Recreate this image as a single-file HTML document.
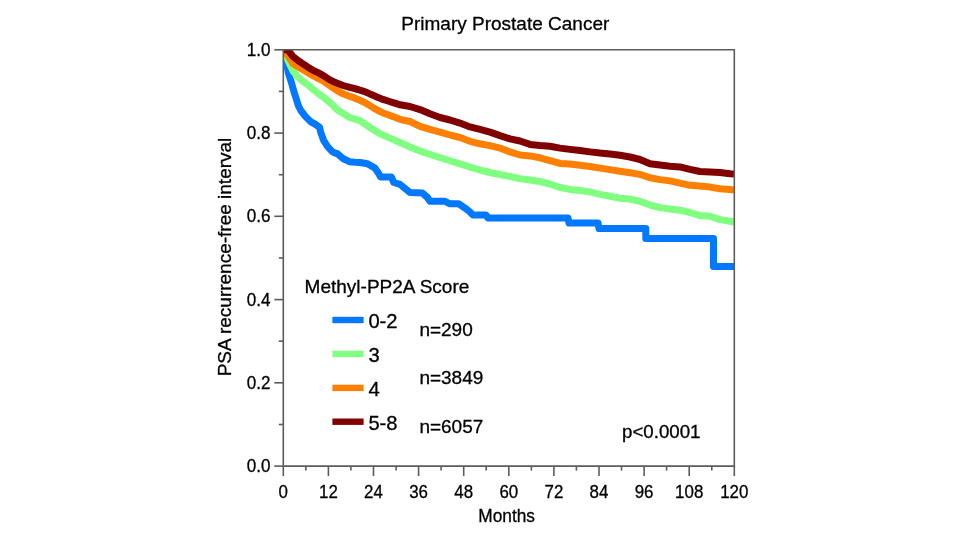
<!DOCTYPE html>
<html><head><meta charset="utf-8"><title>Primary Prostate Cancer</title>
<style>
html,body{margin:0;padding:0;background:#fff;}
body{width:960px;height:540px;overflow:hidden;}
svg{display:block;}
text{fill:#000;stroke:#000;stroke-width:0.3px;}
</style></head>
<body>
<svg width="960" height="540" viewBox="0 0 960 540" font-family="Liberation Sans, Arial, sans-serif">
<rect width="960" height="540" fill="#fff"/>
<defs><clipPath id="pa"><rect x="283.3" y="49.8" width="450.99999999999994" height="416.3"/></clipPath></defs>
<g clip-path="url(#pa)">
<polyline points="283.3,49.8 284.4,52.8 285.8,59.8 288.4,73.1 291.4,82.5 294.0,91.9 296.3,99.0 298.3,105.5 300.8,110.5 305.4,116.4 310.5,121.6 315.1,124.1 319.6,127.4 320.8,132.6 323.6,140.3 327.8,146.8 332.6,152.0 337.7,153.9 342.9,158.5 349.4,161.7 355.0,162.2 360.0,162.5 367.5,163.8 375.0,168.1 378.8,173.8 380.6,176.9 391.3,176.9 393.8,182.5 400.0,184.4 410.0,192.5 422.5,193.1 427.5,197.5 430.0,201.3 445.0,201.3 450.0,203.8 458.8,203.8 465.0,208.1 470.0,212.0 473.0,215.0 486.0,215.0 488.0,218.0 568.0,218.0 569.0,223.0 598.0,223.0 599.0,228.5 645.8,228.5 645.8,238.4 713.5,238.4 713.5,266.5 734.0,266.5" fill="none" stroke="#0078ff" stroke-width="7.0" stroke-linejoin="round" stroke-linecap="butt"/>
<polyline points="283.3,49.8 284.9,53.6 288.0,60.3 293.0,71.0 298.0,77.2 303.0,81.5 308.0,84.9 313.0,89.3 318.0,93.2 323.0,97.0 328.0,100.9 333.0,105.4 337.0,109.5 340.0,111.5 350.0,117.7 360.0,120.6 370.0,127.5 380.0,133.8 390.0,138.1 400.0,142.5 410.0,147.0 422.5,152.0 435.0,156.0 447.5,160.0 460.0,163.8 472.5,167.8 480.0,170.0 490.0,172.5 500.0,174.5 510.0,176.5 520.0,178.6 530.0,180.0 540.0,181.5 550.0,184.0 560.0,187.5 570.0,189.4 580.0,190.6 590.0,191.9 600.0,194.4 610.0,196.3 620.0,198.2 630.0,199.0 640.0,201.4 650.0,205.0 660.0,207.6 670.0,209.0 680.0,210.2 690.0,212.5 700.0,215.6 710.0,216.3 720.0,219.6 730.0,221.3 734.0,222.0" fill="none" stroke="#80ff80" stroke-width="7.0" stroke-linejoin="round" stroke-linecap="butt"/>
<polyline points="283.3,49.8 284.9,51.9 288.0,56.0 293.0,63.5 298.0,66.8 303.0,69.8 308.0,72.9 313.0,75.7 318.0,78.3 323.0,80.8 328.0,84.3 333.0,87.9 338.0,91.2 343.0,93.8 348.0,95.7 353.0,97.4 358.0,99.4 363.0,101.7 368.0,104.4 373.0,107.6 378.0,110.5 383.0,112.9 388.0,114.8 393.0,116.6 398.0,118.6 400.0,119.3 410.0,121.5 420.0,126.3 430.0,129.4 440.0,132.1 450.0,135.0 460.0,137.5 470.0,141.3 480.0,143.8 490.0,145.6 500.0,148.1 510.0,151.9 520.0,155.0 530.0,155.9 540.0,157.8 550.0,160.6 560.0,163.4 570.0,164.0 580.0,165.3 590.0,166.5 600.0,168.1 610.0,169.6 620.0,171.3 630.0,172.8 640.0,174.4 650.0,177.8 660.0,179.6 670.0,180.9 680.0,183.1 690.0,185.3 700.0,185.9 710.0,187.1 720.0,188.8 730.0,189.6 734.0,190.0" fill="none" stroke="#ff8000" stroke-width="7.0" stroke-linejoin="round" stroke-linecap="butt"/>
<polyline points="283.3,49.0 288.5,50.6 293.0,56.6 298.0,60.5 303.0,63.8 308.0,67.2 313.0,70.3 318.0,72.7 323.0,75.4 328.0,78.7 333.0,81.5 338.0,83.5 343.0,85.5 348.0,86.9 353.0,88.2 358.0,89.5 363.0,91.1 368.0,93.1 373.0,95.3 378.0,97.4 383.0,99.4 388.0,101.0 393.0,102.6 398.0,104.2 400.0,104.8 410.0,106.5 420.0,109.6 430.0,113.8 440.0,117.5 450.0,120.0 460.0,123.1 470.0,126.9 480.0,129.4 490.0,132.1 500.0,135.6 510.0,138.8 520.0,141.0 530.0,144.4 540.0,145.6 550.0,146.3 560.0,148.1 570.0,149.4 580.0,150.6 590.0,151.9 600.0,153.1 610.0,154.0 620.0,155.3 630.0,157.0 640.0,159.5 650.0,163.8 660.0,165.0 670.0,166.3 680.0,166.9 690.0,169.4 700.0,171.5 710.0,171.9 720.0,172.5 730.0,173.8 734.0,174.0" fill="none" stroke="#800000" stroke-width="7.0" stroke-linejoin="round" stroke-linecap="butt"/>
</g>
<path d="M283.3,49.8 H734.3 V466.1 H283.3 Z" fill="none" stroke="#5c5c5c" stroke-width="1.6"/>
<line x1="274.3" y1="466.1" x2="283.3" y2="466.1" stroke="#5c5c5c" stroke-width="1.6"/>
<line x1="278.8" y1="424.5" x2="283.3" y2="424.5" stroke="#5c5c5c" stroke-width="1.6"/>
<line x1="274.3" y1="382.8" x2="283.3" y2="382.8" stroke="#5c5c5c" stroke-width="1.6"/>
<line x1="278.8" y1="341.2" x2="283.3" y2="341.2" stroke="#5c5c5c" stroke-width="1.6"/>
<line x1="274.3" y1="299.6" x2="283.3" y2="299.6" stroke="#5c5c5c" stroke-width="1.6"/>
<line x1="278.8" y1="258.0" x2="283.3" y2="258.0" stroke="#5c5c5c" stroke-width="1.6"/>
<line x1="274.3" y1="216.3" x2="283.3" y2="216.3" stroke="#5c5c5c" stroke-width="1.6"/>
<line x1="278.8" y1="174.7" x2="283.3" y2="174.7" stroke="#5c5c5c" stroke-width="1.6"/>
<line x1="274.3" y1="133.1" x2="283.3" y2="133.1" stroke="#5c5c5c" stroke-width="1.6"/>
<line x1="278.8" y1="91.4" x2="283.3" y2="91.4" stroke="#5c5c5c" stroke-width="1.6"/>
<line x1="274.3" y1="49.8" x2="283.3" y2="49.8" stroke="#5c5c5c" stroke-width="1.6"/>
<line x1="283.3" y1="466.1" x2="283.3" y2="476.1" stroke="#5c5c5c" stroke-width="1.6"/>
<line x1="305.9" y1="466.1" x2="305.9" y2="470.6" stroke="#5c5c5c" stroke-width="1.6"/>
<line x1="328.4" y1="466.1" x2="328.4" y2="476.1" stroke="#5c5c5c" stroke-width="1.6"/>
<line x1="350.9" y1="466.1" x2="350.9" y2="470.6" stroke="#5c5c5c" stroke-width="1.6"/>
<line x1="373.5" y1="466.1" x2="373.5" y2="476.1" stroke="#5c5c5c" stroke-width="1.6"/>
<line x1="396.1" y1="466.1" x2="396.1" y2="470.6" stroke="#5c5c5c" stroke-width="1.6"/>
<line x1="418.6" y1="466.1" x2="418.6" y2="476.1" stroke="#5c5c5c" stroke-width="1.6"/>
<line x1="441.1" y1="466.1" x2="441.1" y2="470.6" stroke="#5c5c5c" stroke-width="1.6"/>
<line x1="463.7" y1="466.1" x2="463.7" y2="476.1" stroke="#5c5c5c" stroke-width="1.6"/>
<line x1="486.2" y1="466.1" x2="486.2" y2="470.6" stroke="#5c5c5c" stroke-width="1.6"/>
<line x1="508.8" y1="466.1" x2="508.8" y2="476.1" stroke="#5c5c5c" stroke-width="1.6"/>
<line x1="531.4" y1="466.1" x2="531.4" y2="470.6" stroke="#5c5c5c" stroke-width="1.6"/>
<line x1="553.9" y1="466.1" x2="553.9" y2="476.1" stroke="#5c5c5c" stroke-width="1.6"/>
<line x1="576.4" y1="466.1" x2="576.4" y2="470.6" stroke="#5c5c5c" stroke-width="1.6"/>
<line x1="599.0" y1="466.1" x2="599.0" y2="476.1" stroke="#5c5c5c" stroke-width="1.6"/>
<line x1="621.5" y1="466.1" x2="621.5" y2="470.6" stroke="#5c5c5c" stroke-width="1.6"/>
<line x1="644.1" y1="466.1" x2="644.1" y2="476.1" stroke="#5c5c5c" stroke-width="1.6"/>
<line x1="666.6" y1="466.1" x2="666.6" y2="470.6" stroke="#5c5c5c" stroke-width="1.6"/>
<line x1="689.2" y1="466.1" x2="689.2" y2="476.1" stroke="#5c5c5c" stroke-width="1.6"/>
<line x1="711.8" y1="466.1" x2="711.8" y2="470.6" stroke="#5c5c5c" stroke-width="1.6"/>
<line x1="734.3" y1="466.1" x2="734.3" y2="476.1" stroke="#5c5c5c" stroke-width="1.6"/>
<text transform="translate(270.6,472.0) scale(0.89,1)" text-anchor="end" font-size="19.2">0.0</text>
<text transform="translate(270.6,388.7) scale(0.89,1)" text-anchor="end" font-size="19.2">0.2</text>
<text transform="translate(270.6,305.5) scale(0.89,1)" text-anchor="end" font-size="19.2">0.4</text>
<text transform="translate(270.6,222.2) scale(0.89,1)" text-anchor="end" font-size="19.2">0.6</text>
<text transform="translate(270.6,139.0) scale(0.89,1)" text-anchor="end" font-size="19.2">0.8</text>
<text transform="translate(270.6,55.7) scale(0.89,1)" text-anchor="end" font-size="19.2">1.0</text>
<text transform="translate(283.3,498.4) scale(0.89,1)" text-anchor="middle" font-size="19">0</text>
<text transform="translate(328.4,498.4) scale(0.89,1)" text-anchor="middle" font-size="19">12</text>
<text transform="translate(373.5,498.4) scale(0.89,1)" text-anchor="middle" font-size="19">24</text>
<text transform="translate(418.6,498.4) scale(0.89,1)" text-anchor="middle" font-size="19">36</text>
<text transform="translate(463.7,498.4) scale(0.89,1)" text-anchor="middle" font-size="19">48</text>
<text transform="translate(508.8,498.4) scale(0.89,1)" text-anchor="middle" font-size="19">60</text>
<text transform="translate(553.9,498.4) scale(0.89,1)" text-anchor="middle" font-size="19">72</text>
<text transform="translate(599.0,498.4) scale(0.89,1)" text-anchor="middle" font-size="19">84</text>
<text transform="translate(644.1,498.4) scale(0.89,1)" text-anchor="middle" font-size="19">96</text>
<text transform="translate(689.2,498.4) scale(0.89,1)" text-anchor="middle" font-size="19">108</text>
<text transform="translate(734.3,498.4) scale(0.89,1)" text-anchor="middle" font-size="19">120</text>
<text transform="translate(506.6,522.4) scale(0.93,1)" text-anchor="middle" font-size="18.6">Months</text>
<text x="505.3" y="29.8" text-anchor="middle" font-size="19">Primary Prostate Cancer</text>
<text transform="translate(230.7,257) rotate(-90)" text-anchor="middle" font-size="19">PSA recurrence-free interval</text>
<text x="304.6" y="292.5" font-size="19">Methyl-PP2A Score</text>
<line x1="332.4" y1="320.0" x2="363.6" y2="320.0" stroke="#0078ff" stroke-width="6.4"/>
<text x="368.4" y="327.7" font-size="20.2">0-2</text>
<line x1="332.4" y1="353.9" x2="363.6" y2="353.9" stroke="#80ff80" stroke-width="6.4"/>
<text x="368.4" y="361.6" font-size="20.2">3</text>
<line x1="332.4" y1="387.9" x2="363.6" y2="387.9" stroke="#ff8000" stroke-width="6.4"/>
<text x="368.4" y="395.5" font-size="20.2">4</text>
<line x1="332.4" y1="421.7" x2="363.6" y2="421.7" stroke="#800000" stroke-width="6.4"/>
<text x="368.4" y="429.6" font-size="20.2">5-8</text>
<text x="419.4" y="336" font-size="19">n=290</text>
<text x="419.4" y="384.4" font-size="19">n=3849</text>
<text x="419.4" y="433.3" font-size="19">n=6057</text>
<text x="622" y="438.4" font-size="18.7">p&lt;0.0001</text>
</svg>
</body></html>
